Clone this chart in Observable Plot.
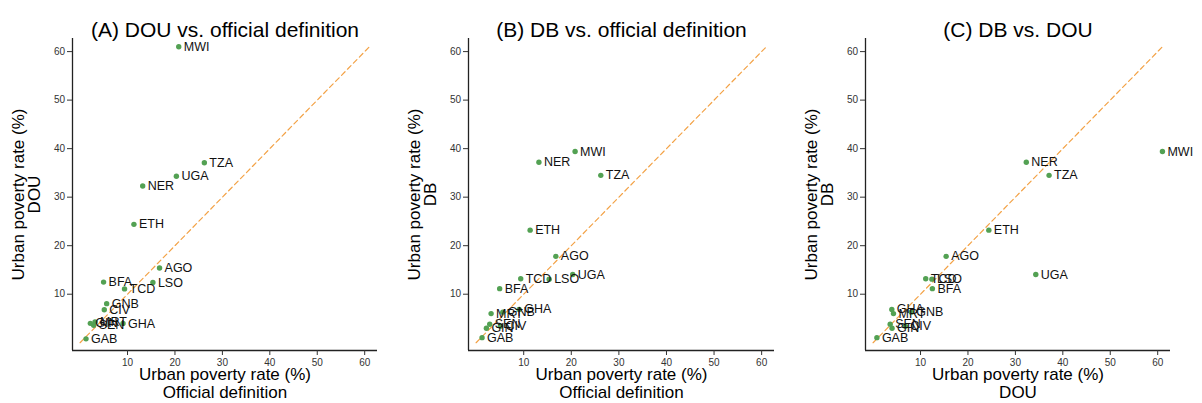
<!DOCTYPE html>
<html><head><meta charset="utf-8">
<script src="https://cdn.jsdelivr.net/npm/d3@7"></script>
<script src="https://cdn.jsdelivr.net/npm/@observablehq/plot@0.6"></script>
<style>
body{margin:0;background:#fff;font-family:"Liberation Sans",Arial,sans-serif}
#c{display:flex;flex-direction:row;align-items:flex-start}
#c svg{display:block;overflow:visible}
</style>
</head><body><div id="c"></div>
<script>
const countries = ["MWI","TZA","UGA","NER","ETH","AGO","LSO","BFA","TCD","GNB","CIV","GHA","MRT","SEN","GIN","GAB"];
const official  = [20.8, 26.2, 20.3, 13.2, 11.35, 16.75, 15.35, 4.95, 9.37, 5.6, 5.1, 9.05, 3.15, 2.86, 2.16, 1.25];
const dou       = [61.0, 37.1, 34.3, 32.3, 24.4, 15.4, 12.4, 12.5, 11.1, 8.06, 6.8, 3.95, 4.3, 3.6, 4.0, 0.8];
const db        = [39.4, 34.5, 14.05, 37.2, 23.2, 17.8, 13.1, 11.15, 13.2, 6.3, 3.4, 6.85, 6.0, 3.8, 3.0, 1.05];
const tickValues = [10, 20, 30, 40, 50, 60];
const diagonal = [0, 61];
const axisLabel = "Urban poverty rate (%)";

const panels = [
  {title: "(A) DOU vs. official definition", xs: official, ys: dou, xlab: "Official definition", ylab: "DOU", width: 400, ml: 72, mr: 23},
  {title: "(B) DB vs. official definition",  xs: official, ys: db,  xlab: "Official definition", ylab: "DB",  width: 400, ml: 68, mr: 26},
  {title: "(C) DB vs. DOU",                  xs: dou,      ys: db,  xlab: "DOU",                 ylab: "DB",  width: 402, ml: 65, mr: 32}
];

const green = "#53a153";
const orange = "#f3a246";
const dom = [-1.6, 62.7];

const container = document.getElementById("c");
for (const p of panels) {
  const idx = d3.range(countries.length);
  const chart = Plot.plot({
    width: p.width,
    height: 403,
    marginLeft: p.ml,
    marginRight: p.mr,
    marginTop: 38,
    marginBottom: 53,
    style: {fontFamily: '"Liberation Sans", Arial, sans-serif', background: "white", overflow: "visible"},
    x: {domain: dom},
    y: {domain: dom},
    marks: [
      Plot.line(diagonal, {x: d => d, y: d => d, stroke: orange, strokeWidth: 1.2, strokeDasharray: "5,3.5"}),
      Plot.ruleX([dom[0]], {stroke: "#222", strokeWidth: 1.3}),
      Plot.ruleY([dom[0]], {stroke: "#222", strokeWidth: 1.3}),
      Plot.axisX({ticks: tickValues, tickSize: 5, tickPadding: 3, fontSize: 10, label: null, stroke: "#333", fill: "#333", tickFormat: d => String(d)}),
      Plot.axisY({ticks: tickValues, tickSize: 5, tickPadding: 2.5, fontSize: 10, label: null, stroke: "#333", fill: "#333", tickFormat: d => String(d)}),
      Plot.dot(idx, {x: i => p.xs[i], y: i => p.ys[i], r: 2.7, fill: green, stroke: "none"}),
      Plot.text(idx, {x: i => p.xs[i], y: i => p.ys[i], text: i => countries[i], dx: 5, textAnchor: "start", fontSize: 12.5, fill: "#111"}),
      Plot.text([p.title], {frameAnchor: "top", dy: -16, textAnchor: "middle", fontSize: 21, fill: "#000"}),
      Plot.text([axisLabel], {frameAnchor: "bottom", dy: 29, textAnchor: "middle", fontSize: 17, fill: "#000"}),
      Plot.text([p.xlab], {frameAnchor: "bottom", dy: 47, textAnchor: "middle", fontSize: 17, fill: "#000"}),
      Plot.text([axisLabel], {frameAnchor: "left", dx: -54, rotate: -90, textAnchor: "middle", fontSize: 17, fill: "#000"}),
      Plot.text([p.ylab], {frameAnchor: "left", dx: -38, rotate: -90, textAnchor: "middle", fontSize: 17, fill: "#000"})
    ]
  });
  container.appendChild(chart);
}
</script>
</body></html>
